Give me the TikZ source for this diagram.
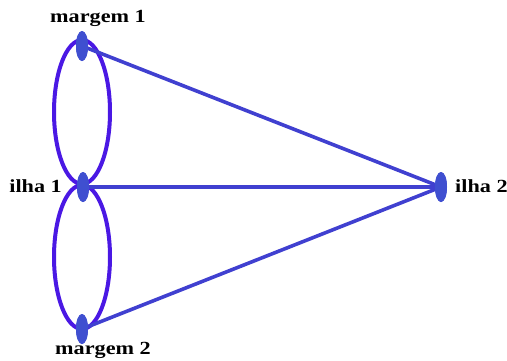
\documentclass[tikz,border=0pt]{standalone}
\usepackage{fontspec}
\setmainfont{Liberation Serif}
\usetikzlibrary{shapes.geometric}
\definecolor{edgeblue}{HTML}{4040D0}
\definecolor{loopviolet}{HTML}{4A18E4}
\definecolor{nodeblue}{HTML}{3F4FD0}
\begin{document}
\begin{tikzpicture}[x=1pt,y=-1pt,
  vert/.style={ellipse,fill=nodeblue,minimum width=12pt,minimum height=30pt,inner sep=0pt},
  lab/.style={font=\fontsize{18.5}{20}\selectfont\bfseries,inner sep=0pt},
  edge/.style={draw=edgeblue,line width=3.6pt},
  loopedge/.style={draw=loopviolet,line width=4pt}]
\useasboundingbox (0,0) rectangle (507,360);
% loops
\draw[loopedge] (82,112) ellipse [x radius=28, y radius=72];
\draw[loopedge] (82,257) ellipse [x radius=28, y radius=72];
% vertices
\node[vert] (m1) at (82,46) {};
\node[vert] (i1) at (83,187) {};
\node[vert] (m2) at (82,329) {};
\node[vert] (i2) at (441,187) {};
% edges
\draw[edge] (m1.center) -- (i2.center);
\draw[edge] (i1.center) -- (i2.center);
\draw[edge] (m2.center) -- (i2.center);
\node[vert] at (m1) {};
\node[vert] at (i1) {};
\node[vert] at (m2) {};
\node[vert] at (i2) {};
% labels
\node[lab] (lm1) at (98,18) {\scalebox{1.2}[1]{margem 1}};
\node[lab,anchor=east] (li1) at (62,186) {\scalebox{1.2}[1]{ilha 1}};
\node[lab] (lm2) at (103,350) {\scalebox{1.2}[1]{margem 2}};
\node[lab,anchor=west] (li2) at (455,186) {\scalebox{1.2}[1]{ilha 2}};
\end{tikzpicture}
\end{document}
